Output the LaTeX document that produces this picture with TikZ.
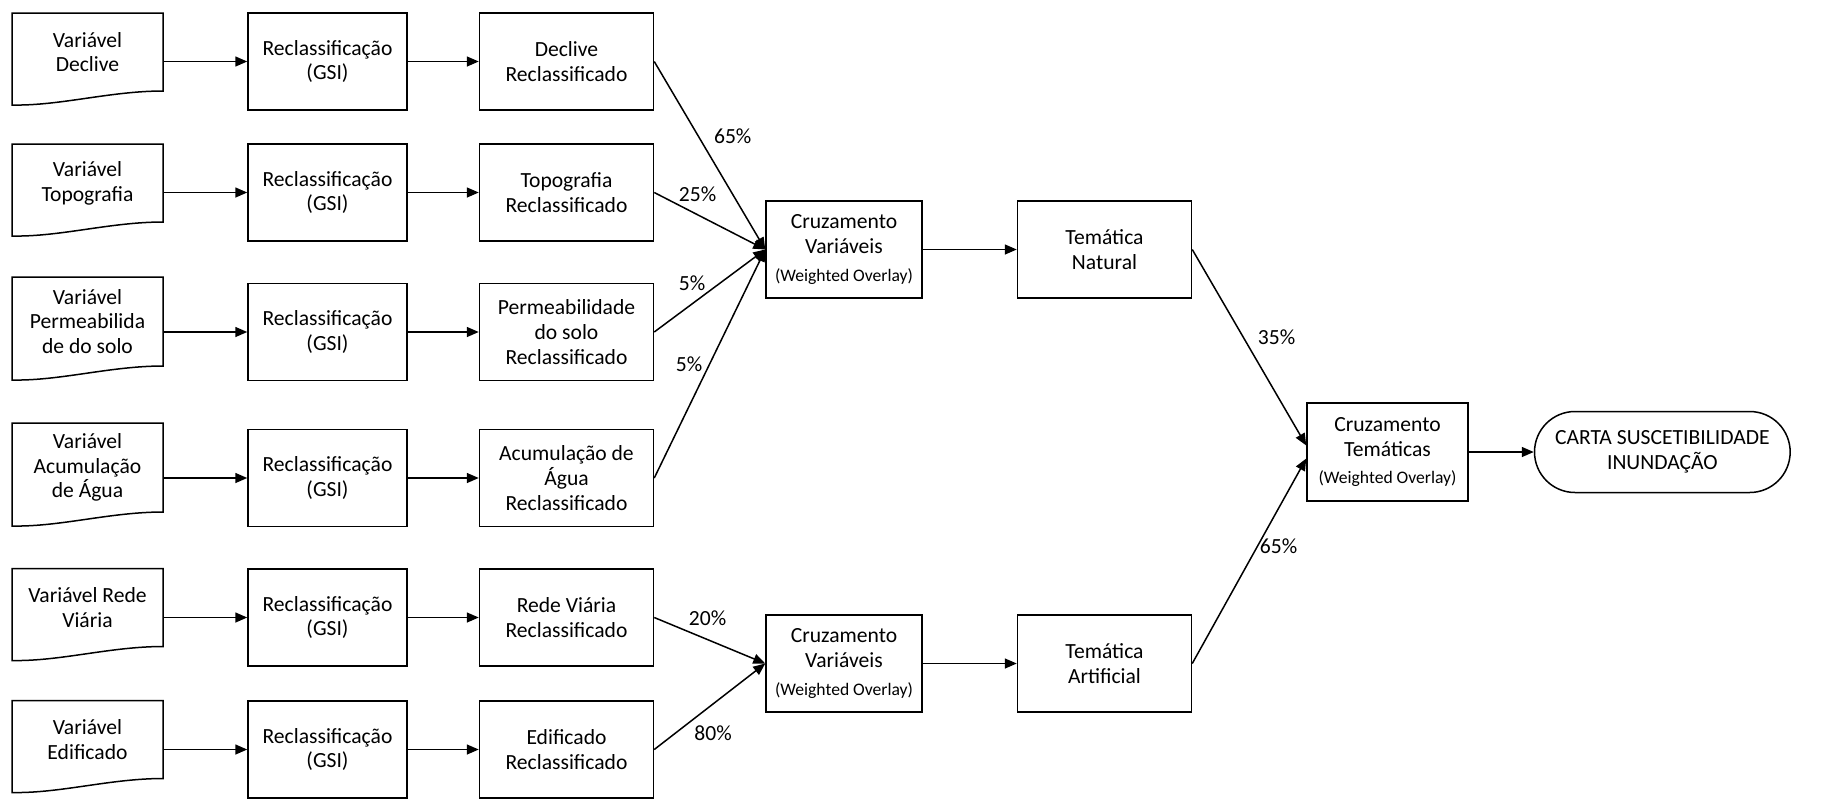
\documentclass[tikz,border=0pt]{standalone}
\usepackage{fontspec}
\setmainfont{Carlito}
\usetikzlibrary{shapes.misc, arrows.meta, positioning}
\tikzstyle{process} = [rectangle, minimum width=79.5pt, minimum height=48.5pt, text centered, align=center, draw=black, line width=0.75pt]
\tikzstyle{result} = [process, minimum width=87pt]
\tikzstyle{datafile} = [rectangle, minimum width=75.5pt, minimum height=39pt, align=center, outer sep=0pt]
\tikzstyle{terminal} = [rounded rectangle, minimum width=134.5pt, minimum height=40.5pt, align=center, draw=black, line width=0.75pt]
\tikzstyle{arrow} = [line width=0.75pt, draw=black, ->, >={Triangle[length=6pt,width=5pt]}]
\newcommand{\overlaytxt}{{\fontsize{8.8}{10}\selectfont (Weighted Overlay)}}
% document shape with a wavy bottom edge
\newcommand{\docwave}[1]{\draw[line width=0.75pt] (#1.north west) -- (#1.north east) -- (#1.south east)
  .. controls ([xshift=-26.5pt]#1.south east) and ([xshift=24pt,yshift=-7.5pt]#1.south west) .. ([yshift=-7pt]#1.south west) -- cycle;}

\begin{document}
\begin{tikzpicture}[x=0.5pt, y=-0.5pt, font=\fontsize{10.8}{12.4}\selectfont]
\useasboundingbox (0,0) rectangle (1842,799);

% input variables
\node (varDeclive) [datafile] at (87.5,52) {Variável\\Declive};
\node (varTopo) [datafile] at (87.5,183) {Variável\\Topografia};
\node (varPerm) [datafile, minimum height=44.5pt] at (87.5,321.5) {Variável\\Permeabilida\\de do solo};
\node (varAgua) [datafile, minimum height=44.5pt] at (87.5,467.5) {Variável\\Acumulação\\de Água};
\node (varRede) [datafile] at (87.5,607.5) {Variável Rede\\Viária};
\node (varEdif) [datafile] at (87.5,739.5) {Variável\\Edificado};
\docwave{varDeclive}
\docwave{varTopo}
\docwave{varPerm}
\docwave{varAgua}
\docwave{varRede}
\docwave{varEdif}

% reclassification
\node (gsiDeclive) [process] at (327.5,61.5) {Reclassificação\\(GSI)};
\node (gsiTopo) [process] at (327.5,192.5) {Reclassificação\\(GSI)};
\node (gsiPerm) [process] at (327.5,332) {Reclassificação\\(GSI)};
\node (gsiAgua) [process] at (327.5,478) {Reclassificação\\(GSI)};
\node (gsiRede) [process] at (327.5,617.5) {Reclassificação\\(GSI)};
\node (gsiEdif) [process] at (327.5,749.5) {Reclassificação\\(GSI)};

\node (reclDeclive) [result, right=35.5pt of gsiDeclive] {Declive\\Reclassificado};
\node (reclTopo) [result, right=35.5pt of gsiTopo] {Topografia\\Reclassificado};
\node (reclPerm) [result, right=35.5pt of gsiPerm] {Permeabilidade\\do solo\\Reclassificado};
\node (reclAgua) [result, right=35.5pt of gsiAgua] {Acumulação de\\Água\\Reclassificado};
\node (reclRede) [result, right=35.5pt of gsiRede] {Rede Viária\\Reclassificado};
\node (reclEdif) [result, right=35.5pt of gsiEdif] {Edificado\\Reclassificado};

% crossings
\node (cruzNatural) [process, minimum width=78pt] at (844,249.5) {Cruzamento\\Variáveis\\[1.5pt]\overlaytxt};
\node (cruzArtificial) [process, minimum width=78pt] at (844,663.5) {Cruzamento\\Variáveis\\[1.5pt]\overlaytxt};
\node (temNatural) [result, right=47pt of cruzNatural] {Temática\\Natural};
\node (temArtificial) [result, right=47pt of cruzArtificial] {Temática\\Artificial};
\node (cruzTematicas) [process, minimum width=80.5pt, minimum height=49pt] at (1387.5,452) {Cruzamento\\Temáticas\\[1.5pt]\overlaytxt};
\node (carta) [terminal, right=32.5pt of cruzTematicas] {CARTA SUSCETIBILIDADE\\INUNDAÇÃO};

\draw [arrow] (varDeclive.east |- gsiDeclive.west) -- (gsiDeclive.west);
\draw [arrow] (varTopo.east |- gsiTopo.west) -- (gsiTopo.west);
\draw [arrow] (varPerm.east |- gsiPerm.west) -- (gsiPerm.west);
\draw [arrow] (varAgua.east |- gsiAgua.west) -- (gsiAgua.west);
\draw [arrow] (varRede.east |- gsiRede.west) -- (gsiRede.west);
\draw [arrow] (varEdif.east |- gsiEdif.west) -- (gsiEdif.west);

\draw [arrow] (gsiDeclive) -- (reclDeclive);
\draw [arrow] (gsiTopo) -- (reclTopo);
\draw [arrow] (gsiPerm) -- (reclPerm);
\draw [arrow] (gsiAgua) -- (reclAgua);
\draw [arrow] (gsiRede) -- (reclRede);
\draw [arrow] (gsiEdif) -- (reclEdif);

\draw [arrow] (reclDeclive.east) -- node[pos=0.4, right=4pt]{65\%} (cruzNatural.west);
\draw [arrow] (reclTopo.east) -- node[pos=0.39, above=3pt]{25\%} (cruzNatural.west);
\draw [arrow] (reclPerm.east) -- node[pos=0.34, above=3pt]{5\%} (cruzNatural.west);
\draw [arrow] (reclAgua.east) -- node[pos=0.5, left]{5\%} (cruzNatural.west);
\draw [arrow] (reclRede.east) -- node[pos=0.48, above=3pt]{20\%} (cruzArtificial.west);
\draw [arrow] (reclEdif.east) -- node[pos=0.53, below=7pt]{80\%} (cruzArtificial.west);

\draw [arrow] (cruzNatural) -- (temNatural);
\draw [arrow] (cruzArtificial) -- (temArtificial);
\draw [arrow] (temNatural.east) -- node[pos=0.45, right=3.5pt]{35\%} ([yshift=3.25pt]cruzTematicas.west);
\draw [arrow] (temArtificial.east) -- node[pos=0.57, right, inner sep=1pt]{65\%} ([yshift=-3.25pt]cruzTematicas.west);
\draw [arrow] (cruzTematicas) -- (carta);
\end{tikzpicture}
\end{document}
